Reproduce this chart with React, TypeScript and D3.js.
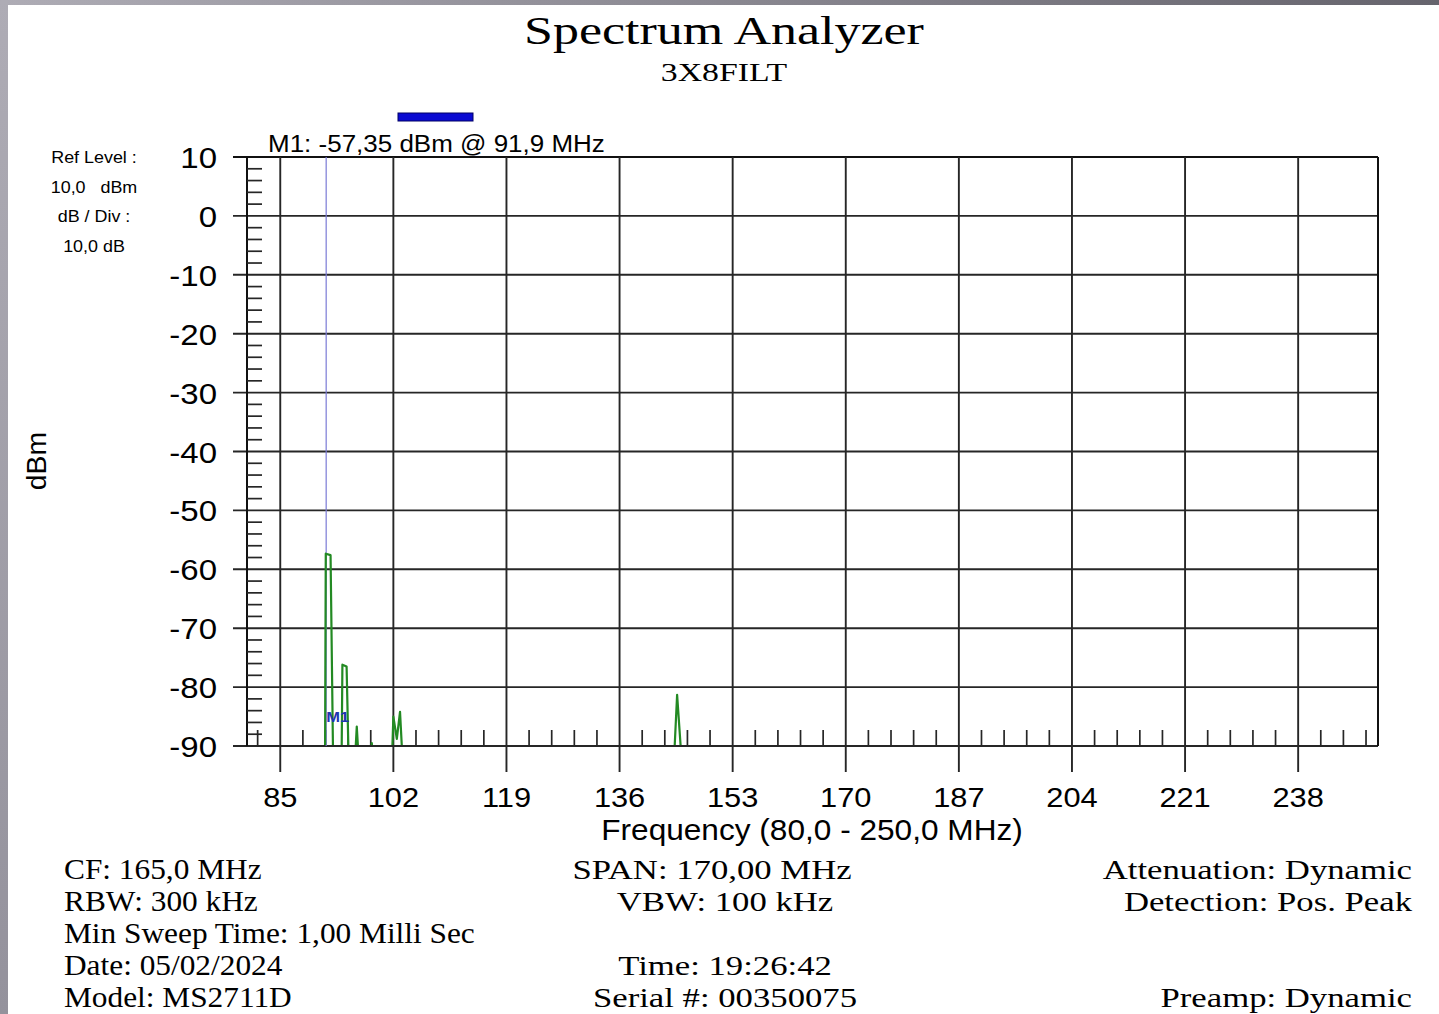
import React from 'react';
import * as d3 from 'd3';

// ---- data ----
const freqTicks = [85, 102, 119, 136, 153, 170, 187, 204, 221, 238];
const levelTicks = [10, 0, -10, -20, -30, -40, -50, -60, -70, -80, -90];
const freqDomain = [80, 250];
const levelDomain = [-90, 10];
const traceFreq = [80, 91.73, 91.84, 92.56, 92.94, 94.22, 94.34, 94.97, 95.27, 96.25, 96.5, 96.77, 98.6, 98.76, 98.92, 101.8, 102.0, 102.52, 103.0, 103.36, 144.2, 144.65, 145.3, 250];
const traceLevel = [-92, -92, -57.35, -57.6, -92, -92, -76.2, -76.5, -92, -92, -86.7, -92, -92, -89.5, -92, -92, -85, -88.8, -84.2, -92, -92, -81.3, -92, -92];
const markerFreq = 91.9;
const markerLevel = -57.35;
const markerName = 'M1';
const leftInfo = ['CF: 165,0 MHz', 'RBW: 300 kHz', 'Min Sweep Time: 1,00 Milli Sec', 'Date: 05/02/2024', 'Model: MS2711D'];
const midInfo = ['SPAN: 170,00 MHz', 'VBW: 100 kHz', '', 'Time: 19:26:42', 'Serial #: 00350075'];
const rightInfo = ['Attenuation: Dynamic', 'Detection: Pos. Peak', '', '', 'Preamp: Dynamic'];
const refInfo = ['Ref Level :', '10,0   dBm', 'dB / Div :', '10,0 dB'];

const W = 1439;
const H = 1014;
const PL = 247, PR = 1378, PT = 157, PB = 746;
const SERIF = '"Liberation Serif", "Times New Roman", serif';
const SANS = '"Liberation Sans", Arial, sans-serif';

type TP = { x: number; y: number; sx?: number; anchor?: string; size: number; family: string; fill?: string; weight?: string | number; children: React.ReactNode; rotate?: number };
const T = ({ x, y, sx = 1, anchor = 'start', size, family, fill = '#000', weight, children, rotate }: TP) => (
  <text
    transform={`translate(${x},${y})${rotate ? ` rotate(${rotate})` : ''} scale(${sx},1)`}
    textAnchor={anchor as any}
    fontSize={size}
    fontFamily={family}
    fill={fill}
    fontWeight={weight as any}
    style={{ whiteSpace: 'pre' }}
  >
    {children}
  </text>
);

export default function App() {
  const x = d3.scaleLinear().domain(freqDomain).range([PL, PR]);
  const y = d3.scaleLinear().domain(levelDomain).range([PB, PT]);

  const minorY: number[] = [];
  for (let v = levelDomain[0]; v <= levelDomain[1]; v += 2) {
    if (Math.abs(v % 10) > 0.01) minorY.push(v);
  }
  const minorX: number[] = [];
  for (let k = -5; k <= 60; k++) {
    const f = 85 + k * 3.4;
    if (f > freqDomain[0] && f < freqDomain[1] && Math.abs(((f - 85) / 17) - Math.round((f - 85) / 17)) > 0.01) minorX.push(f);
  }

  const pts: [number, number][] = traceFreq.map((f, i) => [f, traceLevel[i]]);
  const line = d3.line<[number, number]>().x((d) => x(d[0])).y((d) => y(d[1]));

  const grid = '#262626';
  const bottomY = [879, 911, 943, 975, 1007];

  return (
    <svg width={W} height={H} style={{ position: 'fixed', left: 0, top: 0, background: '#fff' }}>
      <defs>
        <linearGradient id="gl" x1="0" y1="0" x2="0" y2="1">
          <stop offset="0" stopColor="#aeacb5" />
          <stop offset="1" stopColor="#94929c" />
        </linearGradient>
        <linearGradient id="gt" x1="0" y1="0" x2="1" y2="0">
          <stop offset="0" stopColor="#aeacb5" />
          <stop offset="1" stopColor="#66646d" />
        </linearGradient>
        <clipPath id="plot">
          <rect x={PL} y={PT - 2} width={PR - PL} height={PB - PT + 1} />
        </clipPath>
      </defs>
      <rect x={0} y={0} width={W} height={H} fill="#fff" />
      <rect x={0} y={0} width={W} height={5} fill="url(#gt)" />
      <rect x={0} y={0} width={8} height={H} fill="url(#gl)" />

      {/* titles */}
      <T x={724} y={44} sx={1.3} anchor="middle" size={40} family={SERIF}>Spectrum Analyzer</T>
      <T x={724} y={81} sx={1.3} anchor="middle" size={26} family={SERIF}>3X8FILT</T>

      {/* ref info */}
      {refInfo.map((s, i) => (
        <T key={s} x={94} y={163 + i * 29.7} sx={1.12} anchor="middle" size={16} family={SANS}>{s}</T>
      ))}

      {/* horizontal grid */}
      {levelTicks.map((v) => (
        <line key={'h' + v} x1={PL - 14} x2={PR} y1={y(v)} y2={y(v)} stroke={v === 10 ? '#111' : grid} strokeWidth={v === 10 ? 2 : 1.9} />
      ))}
      {/* vertical grid */}
      {freqTicks.map((f) => (
        <line key={'v' + f} x1={x(f)} x2={x(f)} y1={PT} y2={PB + 26} stroke={grid} strokeWidth={1.9} />
      ))}
      <line x1={PL} x2={PL} y1={PT} y2={PB} stroke="#111" strokeWidth={2} />
      <line x1={PR} x2={PR} y1={PT} y2={PB} stroke="#111" strokeWidth={2} />
      {/* minor ticks */}
      {minorY.map((v) => (
        <line key={'my' + v} x1={PL} x2={PL + 15} y1={y(v)} y2={y(v)} stroke={grid} strokeWidth={1.7} />
      ))}
      {minorX.map((f) => (
        <line key={'mx' + f} x1={x(f)} x2={x(f)} y1={PB} y2={PB - 16} stroke={grid} strokeWidth={1.7} />
      ))}

      {/* y labels */}
      {levelTicks.map((v) => (
        <T key={'yl' + v} x={217} y={y(v) + 11} sx={1.1} anchor="end" size={30} family={SANS}>{String(v)}</T>
      ))}
      {/* x labels */}
      {freqTicks.map((f) => (
        <T key={'xl' + f} x={x(f)} y={807} sx={1.1} anchor="middle" size={28} family={SANS}>{String(f)}</T>
      ))}
      <T x={812} y={840} sx={1.09} anchor="middle" size={29} family={SANS}>Frequency (80,0 - 250,0 MHz)</T>
      <T x={46} y={461} sx={1.05} anchor="middle" size={27} family={SANS} rotate={-90}>dBm</T>

      {/* marker */}
      <line x1={x(markerFreq)} x2={x(markerFreq)} y1={PT} y2={PB} stroke="#7b7bd6" strokeWidth={1.2} />
      <rect x={398} y={113} width={75} height={8} fill="#0a0ad2" stroke="#000066" strokeWidth={1} />
      <T x={268} y={152} sx={1.13} size={23} family={SANS}>{`${markerName}: ${markerLevel.toFixed(2).replace('.', ',')} dBm @ ${markerFreq.toFixed(1).replace('.', ',')} MHz`}</T>

      {/* trace */}
      <path d={line(pts) || ''} fill="none" stroke="#238a23" strokeWidth={2.2} clipPath="url(#plot)" strokeLinejoin="round" />
      <T x={x(markerFreq)} y={722} sx={1.1} size={15} family={SANS} fill="#2035b0" weight={700}>{markerName}</T>

      {/* bottom info */}
      {leftInfo.map((s, i) => (
        <T key={'l' + i} x={64} y={bottomY[i]} sx={1.1} size={28.5} family={SERIF}>{s}</T>
      ))}
      {midInfo.map((s, i) => s ? (
        <T key={'m' + i} x={i === 0 ? 712 : 725} y={bottomY[i]} sx={1.24} anchor="middle" size={28} family={SERIF}>{s}</T>
      ) : null)}
      {rightInfo.map((s, i) => s ? (
        <T key={'r' + i} x={1412} y={bottomY[i]} sx={1.24} anchor="end" size={28} family={SERIF}>{s}</T>
      ) : null)}
    </svg>
  );
}
